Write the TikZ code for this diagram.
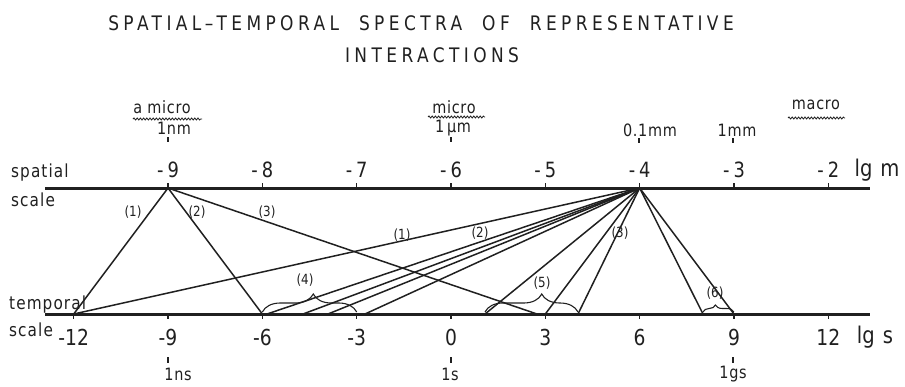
\documentclass[tikz,border=0pt]{standalone}
\usepackage{fontspec}
\setmainfont{DejaVu Sans}[FakeStretch=0.85]
\usetikzlibrary{calc, decorations.pathmorphing, decorations.pathreplacing}
\definecolor{ink}{HTML}{202020}

\begin{document}
\begin{tikzpicture}[x=1pt, y=-1pt,
    axis/.style={draw=ink, line width=3pt},
    link/.style={draw=ink, line width=1.5pt},
    tick/.style={draw=ink, line width=1.3pt},
    wavy/.style={draw=ink, line width=0.8pt, decorate, decoration={snake, amplitude=1pt, segment length=3.2pt}},
    curly/.style={draw=ink, line width=1.1pt, decorate, decoration={brace, amplitude=#1}},
    lbl/.style={text=ink, inner sep=0pt, font=\fontsize{17}{17}\selectfont\addfontfeature{LetterSpace=4}},
    num/.style={text=ink, inner sep=0pt, font=\fontsize{21}{21}\selectfont},
    tnum/.style={text=ink, inner sep=0pt, font=\fontsize{22}{22}\selectfont},
    unit/.style={text=ink, inner sep=0pt, font=\fontsize{23}{23}\selectfont},
    tag/.style={text=ink, inner sep=0pt, font=\fontsize{14}{14}\selectfont},
    ttl/.style={text=ink, inner sep=0pt, font=\fontsize{20}{20}\selectfont\addfontfeature{LetterSpace=22}},
    side/.style={text=ink, inner sep=0pt, anchor=west, font=\fontsize{18}{18}\selectfont\addfontfeature{LetterSpace=6}}
  ]
    \useasboundingbox (0,0) rectangle (905,386);

    % Title
    \node[ttl] (title1) at (421,23) {SPATIAL\,--\,TEMPORAL\quad SPECTRA\quad OF\quad REPRESENTATIVE};
    \node[ttl] (title2) at (432,55) {INTERACTIONS};

    % Scale names
    \node[side] (spatial) at (11,173) {spatial};
    \node[side] (scaleS) at (11,200) {scale};
    \node[side] (temporal) at (9,305) {temporal};
    \node[side] (scaleT) at (9,330) {scale};

    % Axes
    \coordinate (sL) at (45,188);
    \coordinate (sR) at (870,188);
    \coordinate (tL) at (45,314);
    \coordinate (tR) at (870,314);
    \draw[axis] (sL) -- (sR);
    \draw[axis] (tL) -- (tR);

    \foreach \s in {-9,...,-2}{
      \pgfmathtruncatemacro\a{abs(\s)}
      \coordinate (s\s) at ({451+94.33*(\s+6)},188);
      \draw[tick] (s\s) -- ++(0,-5);
      \node[num] (ns\s) at ($(s\s)+(0,-18)$) {-\kern4pt\a};
    }
    \foreach \t in {-12,-9,...,12}{
      \coordinate (t\t) at ({451+31.44*\t},314);
      \draw[tick] (t\t) -- ++(0,5);
      \node[tnum] (nt\t) at ($(t\t)+(0,23)$) {\t};
    }
    \node[unit] (lgm) at (877,170) {lg\hspace{8pt}m};
    \node[unit] (lgs) at (875,337) {lg\hspace{8pt}s};

    % Size marks
    \node[lbl] (amicro) at (162,107) {a micro};
    \draw[wavy] (133,119) -- (202,119);
    \node[lbl] (nm) at (174,128) {1nm};
    \draw[tick] (168,137) -- (168,142);
    \node[lbl] (micro) at (454,107) {micro};
    \draw[wavy] (428,117) -- (485,117);
    \node[lbl] (um) at (453,128) {1\,μm};
    \draw[tick] (451,137) -- (451,142);
    \node[lbl] (dmm) at (650,130) {0.1mm};
    \draw[tick] (639,138) -- (639,143);
    \node[lbl] (mm) at (737,130) {1mm};
    \draw[tick] (733,138) -- (733,143);
    \node[lbl] (macro) at (816,105) {macro};
    \draw[wavy] (788,118) -- (845,118);

    % Time marks
    \draw[tick] (168,357) -- (168,363);
    \node[lbl] (ns) at (178,374) {1ns};
    \draw[tick] (451,357) -- (451,363);
    \node[lbl] (sec) at (450,374) {1s};
    \draw[tick] (733,357) -- (733,363);
    \node[lbl] (gs) at (733,374) {1gs};

    % End points between the ticks
    \coordinate (t4a) at (267,314);
    \coordinate (t4b) at (303,314);
    \coordinate (t4c) at (328,314);
    \coordinate (t4d) at (365,314);
    \coordinate (t5a) at (485,314);
    \coordinate (t5c) at (578,314);
    \coordinate (t6a) at (703,314);
    \coordinate (t3end) at (537,314);

    % Connections from 1 nm
    \draw[link] (s-9) -- (t-12);
    \draw[link] (s-9) -- (t-6);
    \draw[link] (s-9) -- (t3end);

    % Connections from 0.1 mm
    \draw[link] (s-4) -- (t-12);
    \draw[link] (s-4) -- (t4a);
    \draw[link] (s-4) -- (t4b);
    \draw[link] (s-4) -- (t4c);
    \draw[link] (s-4) -- (t4d);
    \draw[link] (s-4) -- (t5a);
    \draw[link] (s-4) -- (t3);
    \draw[link] (s-4) -- (t5c);
    \draw[link] (s-4) -- (t6a);
    \draw[link] (s-4) -- (t9);

    % Braces
    \draw[curly=18pt, decoration={aspect=0.54}] ($(t-6)+(0,-2)$) -- ($(t-3)+(0,-2)$);
    \draw[curly=18pt, decoration={aspect=0.61}] ($(t5a)+(0,-2)$) -- ($(t5c)+(0,-2)$);
    \draw[curly=7pt, decoration={aspect=0.4}] ($(t6a)+(0,-2)$) -- ($(t9)+(0,-2)$);

    % Labels
    \node[tag] (l1a) at (133,212) {(1)};
    \node[tag] (l2a) at (197,212) {(2)};
    \node[tag] (l3a) at (267,212) {(3)};
    \node[tag] (l1b) at (402,235) {(1)};
    \node[tag] (l2b) at (480,233) {(2)};
    \node[tag] (l3b) at (620,233) {(3)};
    \node[tag] (l4) at (305,280) {(4)};
    \node[tag] (l5) at (542,283) {(5)};
    \node[tag] (l6) at (715,293) {(6)};
  \end{tikzpicture}
\end{document}
